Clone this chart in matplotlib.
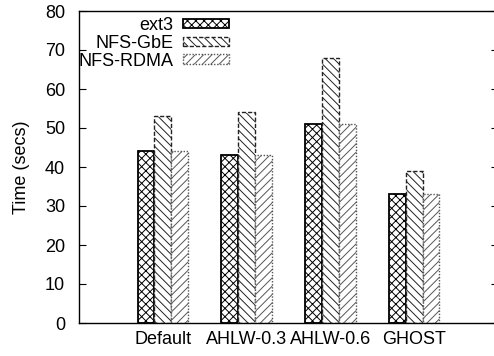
import numpy as np
import matplotlib
matplotlib.use('Agg')
import matplotlib.pyplot as plt

plt.rcParams['font.family'] = ['Liberation Sans', 'DejaVu Sans']
plt.rcParams['hatch.linewidth'] = 0.7

# data
groups = ['Default', 'AHLW-0.3', 'AHLW-0.6', 'GHOST']
ext3 = [44, 43, 51, 33]
nfs_gbe = [53, 54, 68, 39]
nfs_rdma = [44, 43, 51, 33]
y_ticks = [0, 10, 20, 30, 40, 50, 60, 70, 80]

fig = plt.figure(figsize=(4.94, 3.56), dpi=100)
ax = fig.add_axes([79/494, 33/356, 419/494, 312/356])

x = np.arange(1, len(groups) + 1)
w = 0.2
ax.bar(x - w, ext3, w, facecolor='white', edgecolor='black', hatch='xxxx',
       linewidth=1.3, label='ext3')
ax.bar(x, nfs_gbe, w, facecolor='white', edgecolor='#222222', hatch='\\\\\\\\',
       linewidth=1.0, linestyle=(0, (3, 1.5)), label='NFS-GbE')
ax.bar(x + w, nfs_rdma, w, facecolor='white', edgecolor='#555555', hatch='////',
       linewidth=1.0, linestyle=(0, (1, 1.2)), label='NFS-RDMA')

ax.set_xlim(0, 5)
ax.set_ylim(0, 80)
ax.set_xticks(x)
ax.set_xticklabels(groups, fontsize=13)
ax.set_yticks(y_ticks)
ax.tick_params(axis='y', direction='in', right=True, labelsize=13, length=5, pad=10)
ax.tick_params(axis='x', length=0, pad=6)
ax.set_ylabel('Time (secs)', fontsize=13, labelpad=11)
for s in ax.spines.values():
    s.set_linewidth(1.0)

leg = ax.legend(loc='upper left', bbox_to_anchor=(-0.04, 1.033), frameon=False,
                markerfirst=False, fontsize=13, handlelength=2.6,
                handleheight=0.45, labelspacing=0.05, handletextpad=0.5)
for t in leg.get_texts():
    t.set_ha('right')
leg._legend_box.align = 'right'

fig.savefig('out.png', dpi=100)
